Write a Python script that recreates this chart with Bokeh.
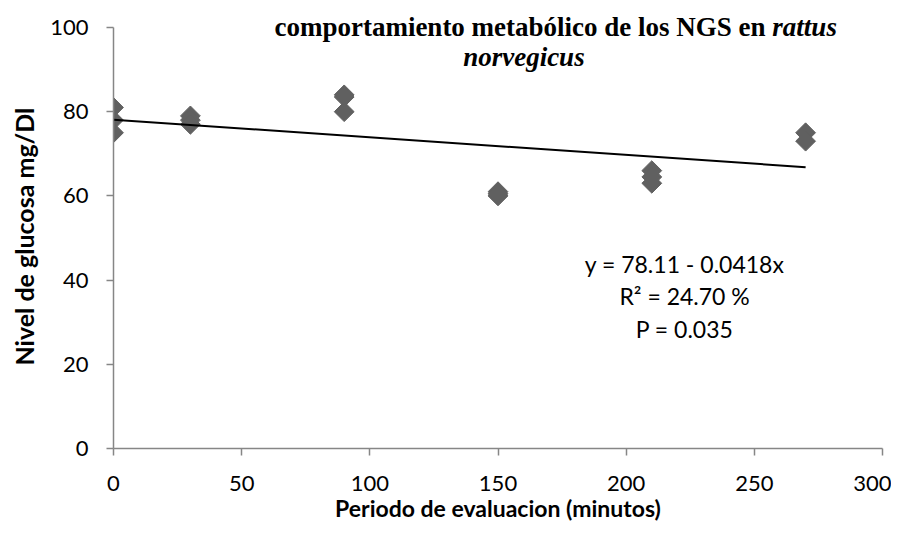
import numpy as np
from bokeh.plotting import figure
from bokeh.models import Range1d, FixedTicker, Label, Title, ColumnDataSource
from bokeh.core.properties import value
from bokeh.embed import file_html
from bokeh.resources import INLINE

# Data
times = [0, 0, 0, 30, 30, 30, 90, 90, 90, 150, 150, 150, 210, 210, 210, 270, 270]
glucose = [81, 78, 75, 79, 78, 77, 84, 83.5, 80, 61, 60.5, 60, 66, 64.5, 63, 75, 73]
intercept = 78.11
slope = -0.0418
trend_x = [0, 270]
x_ticks = [0, 50, 100, 150, 200, 250, 300]
y_ticks = [0, 20, 40, 60, 80, 100]
stats_lines = ["y = 78.11 - 0.0418x", "R\u00b2 = 24.70 %", "P = 0.035"]

title_bold = "comportamiento metabólico de los NGS en"
title_ital1 = "rattus"
title_ital2 = "norvegicus"
x_label = "Periodo de evaluacion (minutos)"
y_label = "Nivel de glucosa mg/Dl"

# frame spans the full height above the x axis; y axis drawn only 0..100
frame_h = 448
axis_top_px = 27
y_top = 100 * frame_h / (frame_h - axis_top_px)

p = figure(width=891, height=524, output_backend="svg", toolbar_location=None,
           x_range=Range1d(0, 300), y_range=Range1d(0, y_top),
           min_border_left=112, min_border_right=9, min_border_top=0, min_border_bottom=76)
p.outline_line_color = None
p.grid.visible = False
p.background_fill_color = "white"
p.border_fill_color = "white"

axis_col = "#868686"
for ax in (p.xaxis[0], p.yaxis[0]):
    ax.axis_line_color = axis_col
    ax.axis_line_width = 1.5
    ax.major_tick_line_color = axis_col
    ax.major_tick_line_width = 1.5
    ax.major_tick_out = 7
    ax.major_tick_in = 0
    ax.minor_tick_line_color = None
    ax.major_label_text_font = "Lato"
    ax.major_label_text_font_size = "22px"
    ax.major_label_text_color = "black"
    ax.axis_label_text_font = "Lato"
    ax.axis_label_text_font_style = "bold"
    ax.axis_label_text_color = "black"
p.xaxis.ticker = FixedTicker(ticks=x_ticks)
p.yaxis.ticker = FixedTicker(ticks=y_ticks)
p.yaxis.bounds = (0, 100)
p.xaxis.major_label_standoff = 20
p.yaxis.major_label_standoff = 18
p.xaxis.axis_label = x_label
p.xaxis.axis_label_text_font_size = "23px"
p.xaxis.axis_label_standoff = 0

# y-axis title as a side title, shifted so it is centred on the 0..100 axis
p.add_layout(Title(text=y_label, align="left", offset=83, vertical_align="middle",
                   standoff=15, text_font="Lato", text_font_style="bold",
                   text_font_size="25px", text_color="black"), "left")

src = ColumnDataSource(dict(x=times, y=glucose))
p.scatter("x", "y", source=src, marker="square", size=14, angle=np.pi / 4,
          fill_color="#606060", line_color="#606060")

trend_y = [intercept + slope * t for t in trend_x]
p.line(trend_x, trend_y, line_color="black", line_width=2)

stats_src = ColumnDataSource(dict(x=[222.8] * 3, y=[43.9, 36.3, 28.5], t=stats_lines))
p.text("x", "y", text="t", source=stats_src, text_font=value("Lato"),
       text_font_size="23px", text_align="center", text_baseline="alphabetic",
       text_color="black")

# Title (bold, with the species name in bold italic)
tfs = "27px"
p.add_layout(Label(x=254.4, y=100.1, text=title_bold, text_font="Liberation Serif",
                   text_font_style="bold", text_font_size=tfs, text_align="right",
                   text_baseline="alphabetic", text_color="black"))
p.add_layout(Label(x=254.4, y=100.1, x_offset=6.75, text=title_ital1, text_font="Liberation Serif",
                   text_font_style="bold italic", text_font_size=tfs, text_align="left",
                   text_baseline="alphabetic", text_color="black"))
p.add_layout(Label(x=160.1, y=93.0, text=title_ital2, text_font="Liberation Serif",
                   text_font_style="bold italic", text_font_size=tfs, text_align="center",
                   text_baseline="alphabetic", text_color="black"))

open("out.html", "w").write(file_html(p, INLINE))
